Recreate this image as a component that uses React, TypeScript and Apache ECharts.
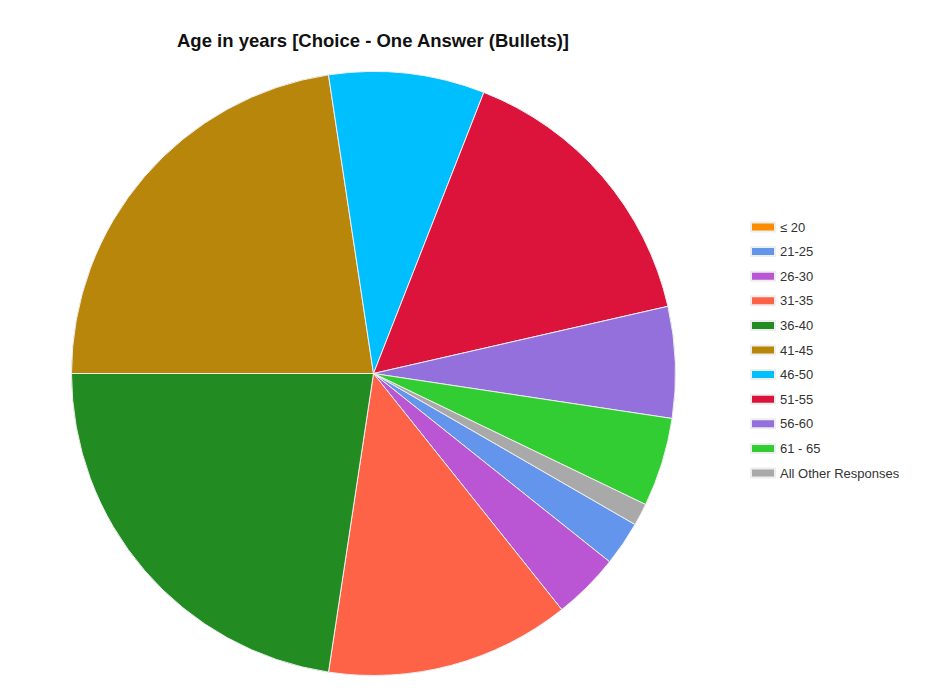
import React, { useEffect, useRef } from "react";
import * as echarts from "echarts";

const categories = ["≤ 20", "21-25", "26-30", "31-35", "36-40", "41-45", "46-50", "51-55", "56-60", "61 - 65", "All Other Responses"];
const counts = [0, 2, 3, 11, 19, 19, 7, 13, 5, 4, 1];
const colors = ["#FF8C00", "#6495ED", "#BA55D3", "#FF6347", "#228B22", "#B8860B", "#00BFFF", "#DC143C", "#9370DB", "#32CD32", "#A9A9A9"];
const titleText = "Age in years [Choice - One Answer (Bullets)]";

export default function App() {
  const ref = useRef<HTMLDivElement>(null);
  useEffect(() => {
    document.body.style.margin = "0";
    const chart = echarts.init(ref.current!, null, { renderer: "svg" });
    chart.setOption({
      animation: false,
      backgroundColor: "#ffffff",
      color: colors,
      title: {
        text: titleText,
        left: 172,
        top: 26,
        textStyle: { fontFamily: "Liberation Sans", fontSize: 18.5, fontWeight: "bold", color: "#111" },
      },
      legend: {
        orient: "vertical",
        left: 750,
        top: 220,
        padding: 0,
        icon: "rect",
        itemWidth: 24,
        itemHeight: 9,
        itemGap: 10.6,
        selectedMode: false,
        textStyle: { fontFamily: "Liberation Sans", fontSize: 13, color: "#333", lineHeight: 14 },
        data: categories,
      },
      series: [
        {
          type: "pie",
          center: [373.5, 373.5],
          radius: 302,
          startAngle: -30,
          clockwise: true,
          label: { show: false },
          labelLine: { show: false },
          emphasis: { disabled: true },
          silent: true,
          itemStyle: { borderColor: "#eeeeee", borderWidth: 1 },
          data: categories.map((c, i) => ({ name: c, value: counts[i] })),
        },
      ],
    });
    return () => chart.dispose();
  }, []);
  return <div ref={ref} style={{ width: 933, height: 693 }} />;
}
